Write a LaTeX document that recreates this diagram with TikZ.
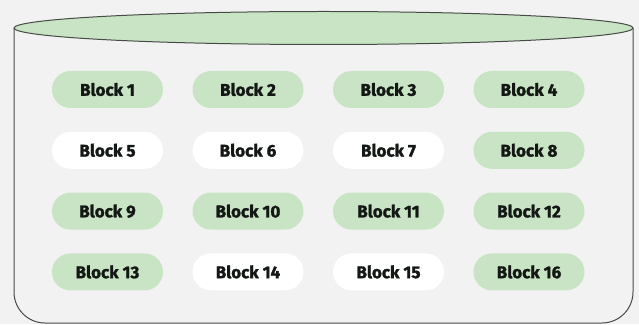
\documentclass[tikz,border=0pt]{standalone}
\usepackage{fontspec}
\setmainfont{Fira Sans}[BoldFeatures={FakeBold=1.5}]
\definecolor{bg}{RGB}{242,242,242}
\definecolor{leaf}{RGB}{201,228,196}
\definecolor{rim}{RGB}{70,75,70}
\definecolor{ink}{RGB}{20,24,20}
\begin{document}
\begin{tikzpicture}[x=1pt,y=1pt,
  pill/.style={rounded rectangle, minimum width=111pt, minimum height=37pt,
    font=\bfseries\fontsize{17}{20}\selectfont, text=ink, inner sep=0pt},
  used/.style={pill, fill=leaf},
  free/.style={pill, fill=white}]
\usetikzlibrary{shapes.misc}
% canvas
\fill[bg] (0,0) rectangle (639,324);
\useasboundingbox (0,0) rectangle (639,324);
% drum body
\draw[rim, line width=1pt, fill=bg]
  (14,296) -- (14,32) arc[start angle=180, end angle=270, radius=31] -- (602,1)
  arc[start angle=270, end angle=360, radius=31] -- (633,296);
% drum lid
\draw[rim, line width=1pt, fill=leaf] (323.5,296) ellipse[x radius=309.5, y radius=16.5];
% blocks
\foreach \n/\kind [count=\i from 0] in {1/used,2/used,3/used,4/used,
    5/free,6/free,7/free,8/used,
    9/used,10/used,11/used,12/used,
    13/used,14/free,15/free,16/used}{
  \pgfmathtruncatemacro{\col}{mod(\i,4)}
  \pgfmathtruncatemacro{\row}{div(\i,4)}
  \node[\kind] (b\n) at (107.5+140.5*\col, 234.5-60.8*\row) {Block \n};
}
\end{tikzpicture}
\end{document}
